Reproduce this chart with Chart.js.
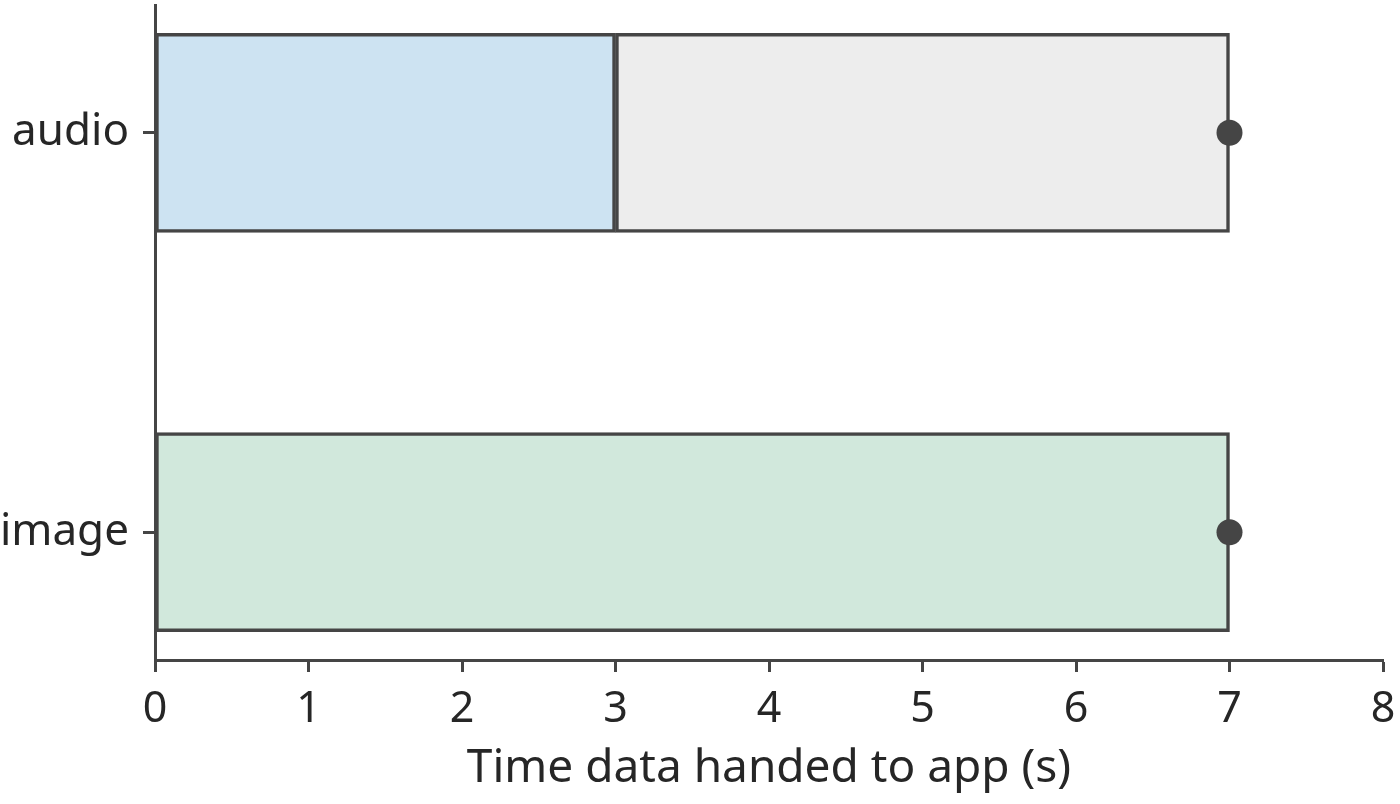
<!DOCTYPE html>
<html>
<head>
<meta charset="utf-8">
<script src="https://cdn.jsdelivr.net/npm/chart.js@4"></script>
<style>
  html, body { margin: 0; padding: 0; background: #fff; }
  #wrap { width: 1400px; height: 804px; }
</style>
</head>
<body>
<div id="wrap"><canvas id="chart" width="1400" height="804"></canvas></div>
<script>
// categories (top to bottom)
var categories = ["audio", "image"];
// end of the coloured part of each bar (s)
var firstPart = [3, 7];
// total time data handed to app (s), marked by a dot
var totals = [7, 7];
var partColors = ["#cde3f2", "#d1e8dc"];
var restColor = "#ededed";
var xTicks = [0, 1, 2, 3, 4, 5, 6, 7, 8];

var ink = "#454545";
var textColor = "#262626";
var fontFamily = "'Noto Sans', 'DejaVu Sans', sans-serif";

var firstBars = categories.map(function (c, i) {
  return { y: i, x: [0, firstPart[i]] };
});
var restBars = categories.map(function (c, i) {
  return totals[i] > firstPart[i] ? { y: i, x: [firstPart[i], totals[i]] } : null;
}).filter(function (d) { return d; });
var dots = categories.map(function (c, i) {
  return { x: totals[i], y: i };
});

var barCommon = {
  type: "bar",
  indexAxis: "y",
  grouped: false,
  barThickness: 199,
  borderColor: ink,
  borderWidth: 3.5,
  borderSkipped: false
};

new Chart(document.getElementById("chart"), {
  data: {
    datasets: [
      Object.assign({}, barCommon, {
        label: "first",
        data: firstBars,
        backgroundColor: partColors
      }),
      Object.assign({}, barCommon, {
        label: "rest",
        data: restBars,
        backgroundColor: restColor
      }),
      {
        type: "scatter",
        label: "total",
        data: dots,
        pointRadius: 13,
        pointBackgroundColor: ink,
        pointBorderWidth: 0,
        clip: false,
        order: -1
      }
    ]
  },
  options: {
    responsive: false,
    animation: false,
    layout: { autoPadding: false, padding: { top: 5, right: 17, left: 0, bottom: 0 } },
    plugins: { legend: { display: false }, tooltip: { enabled: false } },
    scales: {
      x: {
        type: "linear",
        position: "bottom",
        min: 0,
        max: 8,
        offset: false,
        afterBuildTicks: function (s) {
          s.ticks = xTicks.map(function (v) { return { value: v }; });
        },
        afterFit: function (s) {
          s.height = 144;
          s.paddingLeft = 0;
          s.paddingRight = 0;
        },
        border: { color: ink, width: 3 },
        grid: { offset: false, drawOnChartArea: false, drawTicks: true, tickLength: 12, tickColor: ink, tickWidth: 3 },
        ticks: {
          color: textColor,
          padding: 12,
          maxRotation: 0,
          font: { family: fontFamily, size: 43 }
        },
        title: {
          display: true,
          text: "Time data handed to app (s)",
          color: textColor,
          font: { family: fontFamily, size: 46 },
          padding: { top: 0, bottom: 8 }
        }
      },
      y: {
        type: "linear",
        position: "left",
        min: -0.32,
        max: 1.32,
        reverse: true,
        offset: false,
        afterBuildTicks: function (s) {
          s.ticks = categories.map(function (c, i) { return { value: i }; });
        },
        afterFit: function (s) {
          s.width = 155;
          s.paddingTop = 0;
          s.paddingBottom = 0;
        },
        border: { color: ink, width: 3 },
        grid: { offset: false, drawOnChartArea: false, drawTicks: true, tickLength: 12, tickColor: ink, tickWidth: 3 },
        ticks: {
          color: textColor,
          padding: 14,
          font: { family: fontFamily, size: 44 },
          callback: function (v) { return categories[v]; }
        }
      }
    }
  }
});
</script>
</body>
</html>
